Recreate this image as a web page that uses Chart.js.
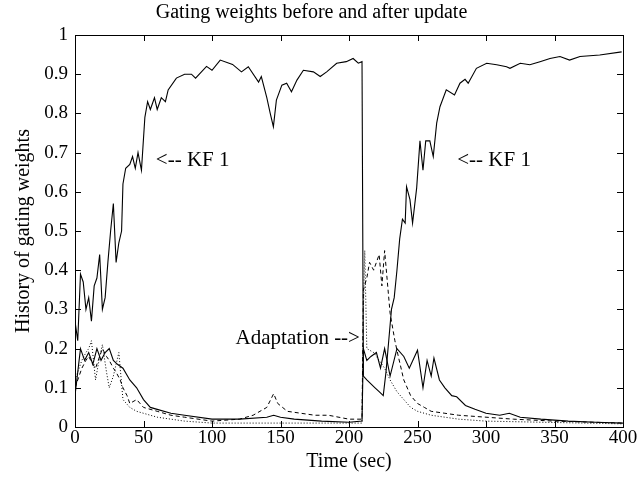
<!DOCTYPE html>
<html>
<head>
<meta charset="utf-8">
<script src="https://cdn.jsdelivr.net/npm/chart.js@4.4.1/dist/chart.umd.min.js"></script>
<style>
  html, body { margin: 0; padding: 0; background: #fff; }
  #wrap { width: 641px; height: 483px; }
</style>
</head>
<body>
<div id="wrap"><canvas id="gating"></canvas></div>
<script>
// Values (time in sec, weight 0..1)
const kf1Time = [0, 2, 4, 6, 8, 10, 12, 14, 16, 18, 20, 22, 24, 26, 28, 30, 32, 34, 35, 37, 40, 42, 44, 46, 48.5, 51, 53, 55, 58, 60, 63, 66, 68, 74, 80, 85, 88, 96, 100, 106, 115, 121.5, 126.5, 134, 136, 140, 142.5, 144.8, 147, 151, 154.5, 158, 162, 166.7, 174, 179, 183.7, 191, 198, 203, 206.8, 209.5,
  210.5, 213, 216, 219, 222, 225, 227, 229, 231, 233, 235, 237, 239, 241, 242, 244.5, 246.4, 249.4, 251.8, 254, 256, 259, 261.5, 264, 266.4, 271, 277, 281, 284.7, 287, 293, 300.5, 307.8, 315, 317.5, 325, 332, 339.4, 346.7, 354, 361, 368.6, 383, 399];
const kf1Value = [0.27, 0.22, 0.39, 0.37, 0.30, 0.33, 0.27, 0.36, 0.38, 0.44, 0.30, 0.33, 0.42, 0.50, 0.57, 0.42, 0.47, 0.50, 0.62, 0.66, 0.67, 0.69, 0.66, 0.70, 0.655, 0.79, 0.83, 0.81, 0.84, 0.81, 0.84, 0.83, 0.86, 0.89, 0.90, 0.90, 0.89, 0.92, 0.91, 0.936, 0.925, 0.906, 0.919, 0.88, 0.894, 0.84, 0.80, 0.766, 0.834, 0.872, 0.877, 0.855, 0.885, 0.91, 0.906, 0.894, 0.906, 0.928, 0.932, 0.94, 0.928, 0.932,
  0.13, 0.12, 0.11, 0.10, 0.09, 0.08, 0.14, 0.22, 0.30, 0.33, 0.40, 0.48, 0.53, 0.52, 0.613, 0.58, 0.52, 0.61, 0.73, 0.655, 0.73, 0.73, 0.69, 0.775, 0.817, 0.86, 0.847, 0.877, 0.887, 0.877, 0.915, 0.928, 0.924, 0.919, 0.915, 0.928, 0.924, 0.932, 0.94, 0.945, 0.936, 0.945, 0.949, 0.957];

const kf2Time = [0, 2, 4, 7, 10, 13, 16, 19, 22, 25, 28, 31, 35, 40, 45, 50, 55, 60, 70, 80, 100, 120, 140, 145, 150, 160, 180, 200, 209.5,
  210.5, 213, 216, 220, 223, 226, 230, 235, 240, 244, 250, 254, 257, 260, 262, 266, 270, 275, 278.6, 285, 292, 300, 310, 317, 325, 340, 360, 380, 400];
const kf2Value = [0.08, 0.14, 0.20, 0.17, 0.19, 0.16, 0.20, 0.17, 0.19, 0.20, 0.17, 0.16, 0.15, 0.12, 0.10, 0.07, 0.05, 0.045, 0.035, 0.03, 0.02, 0.02, 0.025, 0.03, 0.025, 0.02, 0.015, 0.012, 0.015,
  0.20, 0.17, 0.18, 0.19, 0.15, 0.20, 0.13, 0.20, 0.18, 0.15, 0.196, 0.10, 0.17, 0.13, 0.176, 0.12, 0.10, 0.08, 0.077, 0.055, 0.045, 0.035, 0.03, 0.035, 0.025, 0.02, 0.015, 0.012, 0.01];

const kf3Time = [0, 3, 5, 8, 10, 13, 15, 18, 20, 23, 25, 28, 30, 33, 35, 38, 40, 45, 50, 60, 70, 80, 100, 120, 130, 140, 145, 148, 155, 165, 175, 185, 200, 209.5,
  210.5, 213, 215, 218, 222, 224, 226, 230, 233.5, 236, 240, 245, 250, 255, 260, 270, 280, 300, 320, 350, 400];
const kf3Value = [0.10, 0.13, 0.15, 0.17, 0.18, 0.16, 0.15, 0.18, 0.20, 0.18, 0.17, 0.15, 0.14, 0.12, 0.10, 0.08, 0.06, 0.07, 0.05, 0.04, 0.03, 0.025, 0.015, 0.02, 0.03, 0.05, 0.085, 0.06, 0.04, 0.035, 0.03, 0.03, 0.02, 0.02,
  0.35, 0.38, 0.42, 0.40, 0.44, 0.36, 0.45, 0.29, 0.22, 0.18, 0.12, 0.08, 0.06, 0.05, 0.04, 0.035, 0.03, 0.025, 0.02, 0.015, 0.01];

const kf4Time = [0, 3, 5, 8, 10, 12, 15, 18, 20, 23, 25, 28, 30, 32, 35, 40, 45, 50, 60, 80, 100, 150, 200, 209.5,
  210.5, 211.5, 213, 218, 222, 226, 230, 235, 240, 245, 250, 260, 280, 300, 400];
const kf4Value = [0.12, 0.15, 0.17, 0.19, 0.20, 0.22, 0.12, 0.18, 0.21, 0.14, 0.10, 0.13, 0.16, 0.19, 0.07, 0.05, 0.04, 0.035, 0.025, 0.015, 0.01, 0.01, 0.01, 0.01,
  0.30, 0.45, 0.20, 0.19, 0.17, 0.15, 0.12, 0.09, 0.07, 0.05, 0.04, 0.03, 0.02, 0.015, 0.008];

const xTicks = [0, 50, 100, 150, 200, 250, 300, 350, 400];
const yTicks = [0, 0.1, 0.2, 0.3, 0.4, 0.5, 0.6, 0.7, 0.8, 0.9, 1];

// text labels in data coordinates
const notes = [
  { text: '<-- KF 1', x: 59, y: 0.68, align: 'left' },
  { text: '<-- KF 1', x: 279, y: 0.68, align: 'left' },
  { text: 'Adaptation -->', x: 208, y: 0.225, align: 'right' }
];

const FONT = '"Liberation Serif", "DejaVu Serif", serif';

function toPoints(ts, vs) {
  return ts.map((t, i) => ({ x: t, y: vs[i] }));
}

// MATLAB-style frame with inward ticks, plus the text notes
const framePlugin = {
  id: 'frame',
  afterDatasetsDraw(chart) {
    const { ctx, chartArea: a, scales: { x, y } } = chart;
    ctx.save();
    ctx.strokeStyle = '#000';
    ctx.lineWidth = 1;
    ctx.strokeRect(a.left + 0.5, a.top + 0.5, a.right - a.left, a.bottom - a.top);
    ctx.beginPath();
    xTicks.forEach(t => {
      const px = Math.round(x.getPixelForValue(t)) + 0.5;
      ctx.moveTo(px, a.bottom); ctx.lineTo(px, a.bottom - 6);
      ctx.moveTo(px, a.top); ctx.lineTo(px, a.top + 6);
    });
    yTicks.forEach(v => {
      const py = Math.round(y.getPixelForValue(v)) + 0.5;
      ctx.moveTo(a.left, py); ctx.lineTo(a.left + 6, py);
      ctx.moveTo(a.right, py); ctx.lineTo(a.right - 6, py);
    });
    ctx.stroke();
    ctx.fillStyle = '#000';
    ctx.font = '21px ' + FONT;
    ctx.textBaseline = 'middle';
    notes.forEach(n => {
      ctx.textAlign = n.align;
      ctx.fillText(n.text, x.getPixelForValue(n.x), y.getPixelForValue(n.y));
    });
    ctx.restore();
  }
};

const lineStyle = { borderColor: '#000', pointRadius: 0, tension: 0, fill: false };

new Chart(document.getElementById('gating'), {
  type: 'line',
  data: {
    datasets: [
      { ...lineStyle, label: 'KF 1', data: toPoints(kf1Time, kf1Value), borderWidth: 1.1 },
      { ...lineStyle, label: 'KF 2', data: toPoints(kf2Time, kf2Value), borderWidth: 1.1 },
      { ...lineStyle, label: 'KF 3', data: toPoints(kf3Time, kf3Value), borderWidth: 1, borderDash: [4, 3] },
      { ...lineStyle, label: 'KF 4', data: toPoints(kf4Time, kf4Value), borderWidth: 1, borderDash: [1, 2] }
    ]
  },
  options: {
    responsive: true,
    maintainAspectRatio: false,
    animation: false,
    layout: { padding: { left: 0, right: 18, top: 0, bottom: 0 } },
    plugins: {
      legend: { display: false },
      tooltip: { enabled: false },
      title: {
        display: true,
        text: 'Gating weights before and after update',
        color: '#000',
        font: { family: FONT, size: 20, weight: 'normal', lineHeight: 1.2 },
        padding: { top: 1, bottom: 10 }
      }
    },
    scales: {
      x: {
        type: 'linear',
        min: 0,
        max: 400,
        afterBuildTicks: s => { s.ticks = xTicks.map(v => ({ value: v })); },
        afterFit: s => { s.height = 56; },
        grid: { display: false, drawTicks: false },
        border: { display: false },
        ticks: { color: '#000', padding: 0, maxRotation: 0, font: { family: FONT, size: 19 } },
        title: { display: true, text: 'Time (sec)', color: '#000', padding: { top: 4, bottom: 9 }, font: { family: FONT, size: 20, lineHeight: 1.2 } }
      },
      y: {
        min: 0,
        max: 1,
        afterBuildTicks: s => { s.ticks = yTicks.map(v => ({ value: v })); },
        afterFit: s => { s.width = 75; },
        grid: { display: false, drawTicks: false },
        border: { display: false },
        ticks: { color: '#000', padding: 7, font: { family: FONT, size: 19 }, callback: v => String(+v.toFixed(1)) },
        title: { display: true, text: 'History of gating weights', color: '#000', padding: { top: 12, bottom: 4 }, font: { family: FONT, size: 20, lineHeight: 1.2 } }
      }
    }
  },
  plugins: [framePlugin]
});
</script>
</body>
</html>
